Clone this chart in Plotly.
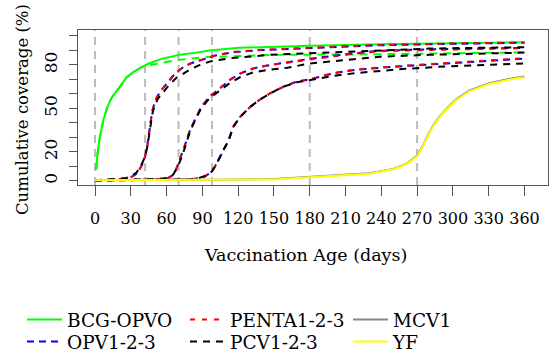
import plotly.graph_objects as go

# ---------------- data ----------------
schedule_days = [0, 42, 70, 98, 180, 270]

bcg_days = [1, 2, 4, 7, 10, 13, 17, 21, 26, 32, 38, 42, 45, 55, 71, 85, 96, 121, 150, 180, 240, 300, 360]
bcg_vals = [8, 18, 30, 42, 50, 56, 61, 65, 71, 75, 78, 79.5, 81, 84, 87, 88.5, 90, 91.8, 92.7, 93.3, 94.3, 95, 95.6]

opv0_days = [1, 2, 4, 7, 10, 13, 17, 21, 26, 32, 38, 42, 50, 60, 70, 95, 155, 230, 300, 360]
opv0_vals = [8, 18, 30, 42, 50, 56, 61, 65, 71, 75, 78, 79.5, 80.5, 82, 83.5, 85.5, 87, 87.3, 88, 88.7]

dose1_days = [0, 15, 25, 30, 35, 38, 40, 42, 44, 46, 48, 50, 52, 56, 60, 65, 70, 75, 80, 90, 100, 116, 140, 172, 239, 300, 360]
penta1_vals = [0.3, 0.8, 1.5, 2.5, 5, 9, 12, 17, 25, 37, 48, 54, 58, 63, 67, 72, 76, 79, 81, 83.5, 86.5, 89, 90.5, 91.5, 93.8, 94.8, 95.5]
opv1_vals = [0.3, 0.8, 1.5, 2.5, 5, 9, 12, 17, 25, 37, 48, 54, 58, 63, 67, 72, 76, 79, 81, 83.5, 86.3, 88.8, 90.3, 91.4, 93.6, 94.6, 95.3]

pcv1_days = [0, 15, 20, 26, 30, 35, 38, 40, 42, 44, 46, 48, 50, 53, 57, 62, 68, 74, 80, 88, 96, 113, 147, 180, 239, 280, 320, 360]
pcv1_vals = [0.5, 1, 1.5, 2, 3, 6, 10, 13, 17, 24, 35, 46, 52, 57, 61, 66, 71, 74, 77, 80, 82.3, 84.6, 87, 88, 90, 91.3, 91.8, 92.2]

dose2_days = [0, 30, 50, 60, 65.6, 68, 71, 75, 79.6, 84, 89, 96, 105, 113, 121.5, 133, 147, 161, 180, 214, 239, 280, 320, 360]
penta2_vals = [0.3, 0.5, 1, 1.5, 4, 8, 14.5, 23.7, 35, 43, 51, 58, 64, 69.7, 74, 77.7, 80, 81.6, 84, 87.5, 89.5, 90.5, 91, 91.5]
opv2_vals = [0.3, 0.5, 1, 1.5, 4, 8, 14.5, 23.7, 35, 43, 51, 58, 64, 69.7, 74, 77.7, 80, 81.8, 84.2, 87.8, 89.8, 90.8, 91.4, 91.8]
pcv2_vals = [0.5, 0.7, 1.2, 2, 4.5, 8, 13, 22, 34, 42, 50, 57, 62.5, 67.5, 71.5, 75, 76.8, 78, 81, 84, 85.7, 87, 87.8, 88.5]

dose3_days = [0, 60, 80, 88, 92, 98, 102, 107.5, 112, 116, 121.5, 130, 138, 147, 158, 169, 180, 189, 200, 220, 240, 260, 294, 330, 360]
penta3_vals = [0.3, 0.5, 1, 2, 3, 6.5, 12, 21, 28, 37.5, 44, 51, 56, 60.5, 65, 68.5, 70, 72, 74.5, 77, 78.5, 79.5, 81.2, 83, 84.6]
opv3_vals = [0.3, 0.5, 1, 2, 3, 6.5, 12, 21, 28, 37.5, 44, 51, 56, 60.5, 65, 68.5, 70, 72, 74.3, 76.8, 78.3, 79.3, 81, 82.8, 84.4]
pcv3_vals = [0.5, 0.7, 1.2, 2.2, 3.5, 6.5, 12, 21, 28, 37.5, 44, 51, 56, 60.5, 65, 68, 69.5, 71, 72.5, 74.5, 76, 77.3, 79, 80.2, 81]

yf_days = [0, 60, 100, 150, 180, 210, 230, 250, 262, 270, 275, 279, 283, 288, 292, 298, 303, 314, 331, 348, 360]
yf_vals = [0.5, 0.6, 0.8, 1, 2.5, 4, 5, 8, 12, 17, 24, 31, 37, 43, 47, 52, 56, 62, 67, 70, 71.5]
mcv1_vals = [0.6, 0.7, 0.9, 1.4, 2.7, 4.2, 5.3, 8.3, 12.3, 17.5, 24.5, 31.5, 37.5, 43.5, 47.5, 52.5, 56.5, 62.5, 67.5, 70.5, 72]

x_ticks = list(range(0, 361, 30))
y_ticks = list(range(0, 101, 10))
y_ticktext = ["0", "", "20", "", "", "50", "", "", "80", "", ""]

# ---------------- styling ----------------
FONT = '"DejaVu Serif", serif'
GREEN, BLUE, RED, BLACK, GREY, YELLOW = "#00FF00", "#0000FF", "#FF0000", "#000000", "#888888", "#FFFF00"
LW = 2

fig = go.Figure()


def add(x, y, color, dash, name, legend, show):
    fig.add_trace(go.Scatter(
        x=x, y=y, mode="lines", name=name, legendgroup=name,
        showlegend=show, legend=legend,
        line=dict(color=color, width=LW, dash=dash),
    ))


# BCG-OPVO
add(opv0_days, opv0_vals, GREEN, "8px,6px", "BCG-OPVO", "legend", False)
add(bcg_days, bcg_vals, GREEN, "solid", "BCG-OPVO", "legend", True)
# OPV1-2-3 (blue)
blue_dash = "7px,5px"
add(dose1_days, opv1_vals, BLUE, blue_dash, "OPV1-2-3", "legend2", True)
add(dose2_days, opv2_vals, BLUE, blue_dash, "OPV1-2-3", "legend2", False)
add(dose3_days, opv3_vals, BLUE, blue_dash, "OPV1-2-3", "legend2", False)
# PENTA1-2-3 (red)
red_dash = "5px,7px"
add(dose1_days, penta1_vals, RED, red_dash, "PENTA1-2-3", "legend3", True)
add(dose2_days, penta2_vals, RED, red_dash, "PENTA1-2-3", "legend3", False)
add(dose3_days, penta3_vals, RED, red_dash, "PENTA1-2-3", "legend3", False)
# PCV1-2-3 (black)
black_dash = "7px,6px"
add(pcv1_days, pcv1_vals, BLACK, black_dash, "PCV1-2-3", "legend4", True)
add(dose2_days, pcv2_vals, BLACK, black_dash, "PCV1-2-3", "legend4", False)
add(dose3_days, pcv3_vals, BLACK, black_dash, "PCV1-2-3", "legend4", False)
# MCV1 and YF
add(yf_days, mcv1_vals, GREY, "solid", "MCV1", "legend5", True)
add(yf_days, yf_vals, YELLOW, "solid", "YF", "legend6", True)

# schedule reference lines
for d in schedule_days:
    fig.add_shape(type="line", xref="x", yref="paper", x0=d, x1=d, y0=0, y1=1,
                  line=dict(color="#BBBBBB", width=2, dash="8px,6px"), layer="below")

axis_common = dict(
    showline=True, linecolor="#555555", linewidth=1, mirror=True,
    ticks="outside", tickcolor="#555555", tickwidth=1,
    showgrid=False, zeroline=False,
)


def legend_at(px, py):
    return dict(
        orientation="h", xref="container", yref="container",
        x=px / 550, y=1 - py / 355, xanchor="left", yanchor="middle",
        itemwidth=35,
        font=dict(family=FONT, size=18.5, color="#000000"),
        bgcolor="rgba(0,0,0,0)", borderwidth=0,
    )


fig.update_layout(
    width=550, height=355,
    margin=dict(l=78, r=2, t=30, b=170, pad=0),
    paper_bgcolor="#FFFFFF", plot_bgcolor="#FFFFFF",
    font=dict(family=FONT, color="#000000"),
    xaxis=dict(range=[-14.25, 379.7], tickvals=x_ticks, ticklen=10, tickangle=0,
               ticklabelstandoff=9, tickfont=dict(family=FONT, size=16, color="#000000"),
               **axis_common),
    yaxis=dict(range=[-2.8, 104.1], tickvals=y_ticks, ticktext=y_ticktext,
               tickangle=-90, ticklen=8, ticklabelstandoff=5,
               tickfont=dict(family=FONT, size=17, color="#000000"), **axis_common),
    legend=legend_at(22, 320),
    legend3=legend_at(185, 320),
    legend5=legend_at(348, 320),
    legend2=legend_at(22, 342),
    legend4=legend_at(185, 342),
    legend6=legend_at(348, 342),
    annotations=[
        dict(text="Vaccination Age (days)", xref="paper", yref="paper",
             x=(305 - 78) / 470, y=(185 - 255) / 155, xanchor="center", yanchor="middle",
             showarrow=False, font=dict(family=FONT, size=17.5, color="#000000")),
        dict(text="Cumulative coverage (%)", xref="paper", yref="paper",
             x=(22 - 78) / 470, y=(185 - 110) / 155, xanchor="center", yanchor="middle",
             textangle=-90, showarrow=False, font=dict(family=FONT, size=16.5, color="#000000")),
    ],
)

fig.write_html("out.html")
